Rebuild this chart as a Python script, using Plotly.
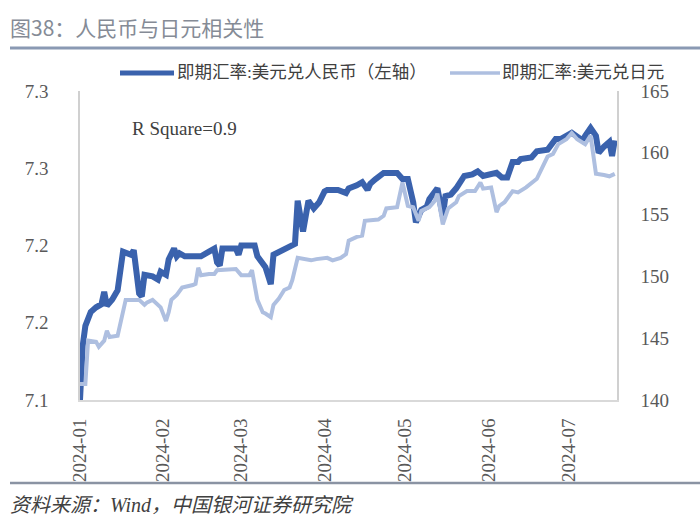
import plotly.graph_objects as go

# ---- data ----
cny_dates = ["2024-01-02","2024-01-03","2024-01-04","2024-01-06","2024-01-08","2024-01-10","2024-01-11","2024-01-12",
             "2024-01-14","2024-01-16","2024-01-18","2024-01-19","2024-01-21","2024-01-22","2024-01-24","2024-01-25",
             "2024-01-26","2024-01-29","2024-01-31","2024-02-01","2024-02-03","2024-02-04","2024-02-06","2024-02-07",
             "2024-02-08","2024-02-10","2024-02-16","2024-02-19","2024-02-21","2024-02-22","2024-02-23","2024-02-24",
             "2024-02-29","2024-03-01","2024-03-02","2024-03-07","2024-03-08","2024-03-11","2024-03-13","2024-03-14",
             "2024-03-16","2024-03-18","2024-03-21","2024-03-22","2024-03-23","2024-03-24","2024-03-25","2024-03-27",
             "2024-03-28","2024-03-29","2024-03-31","2024-04-02","2024-04-03","2024-04-07","2024-04-10","2024-04-11",
             "2024-04-14","2024-04-16","2024-04-18","2024-04-19","2024-04-21","2024-04-24","2024-04-29","2024-05-01",
             "2024-05-03","2024-05-05","2024-05-06","2024-05-08","2024-05-10","2024-05-11","2024-05-14","2024-05-16",
             "2024-05-17","2024-05-19","2024-05-21","2024-05-24","2024-05-27","2024-05-29","2024-05-31","2024-06-03",
             "2024-06-05","2024-06-07","2024-06-09","2024-06-11","2024-06-13","2024-06-14","2024-06-18","2024-06-20",
             "2024-06-24","2024-06-27","2024-06-29","2024-07-03","2024-07-05","2024-07-07","2024-07-08","2024-07-10",
             "2024-07-12","2024-07-13","2024-07-15","2024-07-17","2024-07-18","2024-07-19"]
cny_values = [7.100,7.135,7.148,7.157,7.160,7.162,7.170,7.161,
              7.165,7.171,7.196,7.195,7.194,7.197,7.169,7.167,
              7.181,7.180,7.178,7.183,7.181,7.191,7.198,7.193,
              7.195,7.193,7.193,7.196,7.198,7.189,7.187,7.198,
              7.198,7.194,7.200,7.200,7.193,7.186,7.175,7.194,
              7.196,7.198,7.201,7.201,7.229,7.220,7.209,7.229,
              7.227,7.224,7.228,7.235,7.236,7.236,7.234,7.237,
              7.239,7.241,7.236,7.240,7.243,7.247,7.247,7.243,
              7.243,7.228,7.215,7.223,7.225,7.230,7.237,7.219,
              7.232,7.233,7.237,7.245,7.246,7.248,7.245,7.246,
              7.247,7.244,7.244,7.254,7.254,7.256,7.257,7.261,
              7.262,7.269,7.269,7.273,7.270,7.268,7.271,7.276,
              7.271,7.260,7.264,7.267,7.258,7.268]

jpy_dates = ["2024-01-02","2024-01-04","2024-01-05","2024-01-08","2024-01-09","2024-01-11","2024-01-12","2024-01-13",
             "2024-01-16","2024-01-19","2024-01-24","2024-01-26","2024-01-27","2024-01-29","2024-02-01","2024-02-03",
             "2024-02-04","2024-02-05","2024-02-07","2024-02-09","2024-02-13","2024-02-14","2024-02-15","2024-02-16",
             "2024-02-19","2024-02-21","2024-02-22","2024-02-29","2024-03-02","2024-03-05","2024-03-06","2024-03-08",
             "2024-03-10","2024-03-11","2024-03-13","2024-03-14","2024-03-16","2024-03-18","2024-03-20","2024-03-21",
             "2024-03-23","2024-03-26","2024-03-28","2024-03-30","2024-04-03","2024-04-05","2024-04-08","2024-04-10",
             "2024-04-11","2024-04-14","2024-04-16","2024-04-17","2024-04-20","2024-04-22","2024-04-24","2024-04-25",
             "2024-04-29","2024-04-30","2024-05-01","2024-05-03","2024-05-05","2024-05-07","2024-05-08","2024-05-11",
             "2024-05-13","2024-05-14","2024-05-16","2024-05-18","2024-05-21","2024-05-22","2024-05-25","2024-05-28",
             "2024-05-30","2024-05-31","2024-06-03","2024-06-05","2024-06-06","2024-06-08","2024-06-11","2024-06-13",
             "2024-06-16","2024-06-20","2024-06-22","2024-06-24","2024-06-26","2024-06-28","2024-07-01","2024-07-03",
             "2024-07-05","2024-07-08","2024-07-10","2024-07-11","2024-07-12","2024-07-15","2024-07-17","2024-07-19"]
jpy_values = [141.3,141.3,144.8,144.7,144.3,144.8,145.6,145.1,
              145.2,148.1,148.1,147.7,147.9,148.1,147.5,146.4,
              147.1,148.1,148.5,149.1,149.3,149.4,150.7,150.1,
              150.2,150.2,150.5,150.6,150.1,150.1,150.5,148.1,
              147.1,147.0,146.7,147.7,148.2,148.9,149.1,149.7,
              151.5,151.4,151.3,151.4,151.5,151.3,151.5,151.8,
              152.9,153.2,153.3,154.5,154.6,154.6,154.9,155.5,
              155.6,156.7,157.6,155.7,155.6,154.5,155.3,155.6,
              156.1,156.7,154.2,155.5,156.0,156.5,156.9,156.9,
              157.6,157.1,157.2,155.2,155.7,156.0,156.9,156.8,
              157.2,157.9,158.9,159.7,159.9,160.7,161.1,161.6,
              161.1,160.7,161.4,159.9,158.3,158.2,158.1,158.3]

x_tick_vals = ["2024-01-02","2024-02-02","2024-03-02","2024-04-02","2024-05-02","2024-06-02","2024-07-02"]
x_tick_text = ["2024-01","2024-02","2024-03","2024-04","2024-05","2024-06","2024-07"]
left_tick_vals = [7.10, 7.15, 7.20, 7.25, 7.30]
left_tick_text = ["7.1", "7.2", "7.2", "7.3", "7.3"]
right_tick_vals = [140, 145, 150, 155, 160, 165]

cny_name = "即期汇率:美元兑人民币（左轴）"
jpy_name = "即期汇率:美元兑日元"
title_text = "图38：人民币与日元相关性"
source_text = "资料来源：Wind，中国银河证券研究院"
r2_text = "R Square=0.9"

DARK = "#3a62ad"
LIGHT = "#aebfe0"
SERIF = "Liberation Serif, Noto Sans CJK SC, serif"
CJK = "Noto Sans CJK SC, sans-serif"

fig = go.Figure()
fig.add_trace(go.Scatter(x=cny_dates, y=cny_values, mode="lines", name=cny_name,
                         line=dict(color=DARK, width=6), yaxis="y", showlegend=False))
fig.add_trace(go.Scatter(x=jpy_dates, y=jpy_values, mode="lines", name=jpy_name,
                         line=dict(color=LIGHT, width=4), yaxis="y2", showlegend=False))

# plot area in pixels: x 80..617, y 91..400
L, R, T, B = 80, 617, 91, 400
W, H = 700, 525
def px(X):
    return (X - L) / (R - L)
def py(Y):
    return (B - Y) / (B - T)

tickfont = dict(family=SERIF, size=19, color="#595959")
fig.update_layout(
    width=W, height=H,
    margin=dict(l=L, r=W - R, t=T, b=H - B),
    paper_bgcolor="white", plot_bgcolor="white",
    showlegend=False,
    xaxis=dict(type="date", range=["2024-01-02", "2024-07-19 20:00"],
               tickvals=x_tick_vals, ticktext=x_tick_text, tickangle=-90,
               tickfont=tickfont, showgrid=False, zeroline=False,
               showline=True, linecolor="#d9d9d9", linewidth=2, ticks="",
               ticklabelstandoff=9),
    yaxis=dict(range=[7.10, 7.30], tickvals=left_tick_vals, ticktext=left_tick_text,
               tickfont=tickfont, showgrid=False, zeroline=False,
               showline=True, linecolor="#d0d0d0", linewidth=1.5, ticks="",
               ticklabelstandoff=26),
    yaxis2=dict(range=[140, 165], tickvals=right_tick_vals, overlaying="y", side="right",
                tickfont=tickfont, showgrid=False, zeroline=False,
                showline=True, linecolor="#d0d0d0", linewidth=1.5, ticks="",
                ticklabelstandoff=18),
)

LEG_Y = 72
shapes = [
    # title underline
    dict(type="line", xref="paper", yref="paper", x0=px(10), x1=px(700), y0=py(48), y1=py(48),
         line=dict(color="#8a99b3", width=3)),
    # footer line
    dict(type="line", xref="paper", yref="paper", x0=px(10), x1=px(700), y0=py(483), y1=py(483),
         line=dict(color="#8a93a3", width=2.5)),
    # legend samples
    dict(type="line", xref="paper", yref="paper", x0=px(120), x1=px(174), y0=py(LEG_Y + 1), y1=py(LEG_Y + 1),
         line=dict(color=DARK, width=5)),
    dict(type="line", xref="paper", yref="paper", x0=px(450), x1=px(500), y0=py(LEG_Y + 1), y1=py(LEG_Y + 1),
         line=dict(color=LIGHT, width=3.5)),
]
fig.update_layout(shapes=shapes)

annotations = [
    dict(text=title_text, xref="paper", yref="paper", x=px(8), y=py(27), xanchor="left", yanchor="middle",
         showarrow=False, font=dict(family=CJK, size=21, color="#858b96")),
    dict(text=cny_name, xref="paper", yref="paper", x=px(176), y=py(LEG_Y), xanchor="left", yanchor="middle",
         showarrow=False, borderpad=0, font=dict(family=SERIF, size=17.5, color="#404040")),
    dict(text=jpy_name, xref="paper", yref="paper", x=px(501), y=py(LEG_Y), xanchor="left", yanchor="middle",
         showarrow=False, borderpad=0, font=dict(family=SERIF, size=17.5, color="#404040")),
    dict(text=r2_text, xref="paper", yref="paper", x=px(130), y=py(128), xanchor="left", yanchor="middle",
         showarrow=False, font=dict(family=SERIF, size=19, color="#404040")),
    dict(text=source_text, xref="paper", yref="paper", x=px(8), y=py(505), xanchor="left", yanchor="middle",
         showarrow=False, font=dict(family=SERIF, size=20, color="#404040", style="italic")),
]
fig.update_layout(annotations=annotations)

fig.write_html("out.html")
